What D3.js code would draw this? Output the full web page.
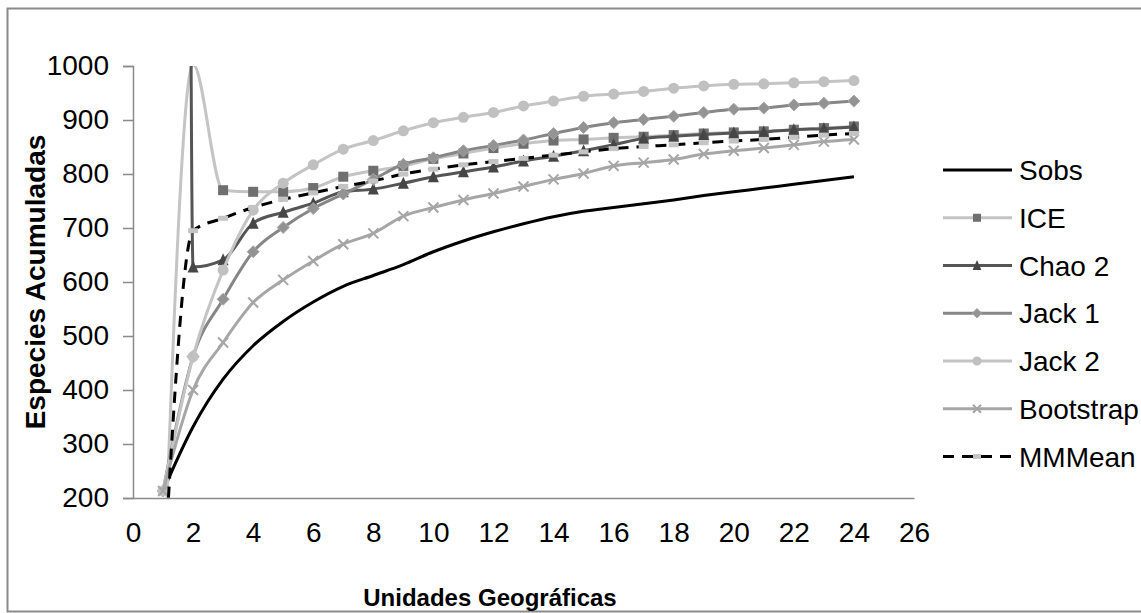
<!DOCTYPE html>
<html>
<head>
<meta charset="utf-8">
<script src="https://cdn.jsdelivr.net/npm/d3@7"></script>
<style>
  body { margin: 0; background: #fff; }
  svg { display: block; font-family: Arial, "Liberation Sans", sans-serif; }
</style>
</head>
<body>
<div id="chart"></div>
<script>
// Unidades geográficas (eje X)
const unidades = [1, 2, 3, 4, 5, 6, 7, 8, 9, 10, 11, 12, 13, 14, 15, 16, 17, 18, 19, 20, 21, 22, 23, 24];

// estimadores de riqueza (los primeros valores de ICE y Chao 2 salen del área)
const sobs = [213, 332, 420, 482, 527, 563, 592, 612, 632, 656, 676, 693, 708, 721, 731, 738, 745, 752, 760, 767, 774, 781, 788, 795];
const ice = [0, 1003, 770, 767, 767, 774, 795, 806, 815, 828, 838, 848, 856, 862, 864, 867, 869, 872, 875, 877, 879, 882, 885, 888];
const chao2 = [60000, 628, 641, 709, 729, 746, 767, 772, 783, 795, 804, 813, 824, 833, 843, 854, 866, 870, 873, 876, 878, 882, 884, 887];
const jack1 = [213, 462, 568, 656, 701, 736, 763, 790, 818, 830, 843, 853, 863, 875, 886, 895, 901, 907, 914, 920, 922, 928, 931, 935];
const jack2 = [213, 462, 622, 733, 783, 817, 846, 862, 880, 895, 905, 914, 926, 935, 944, 948, 953, 959, 963, 966, 967, 969, 971, 973];
const bootstrap = [213, 400, 488, 562, 604, 639, 670, 690, 722, 738, 752, 764, 777, 790, 801, 815, 821, 827, 837, 843, 848, 854, 860, 864];
const mmmean = [25, 695, 718, 738, 753, 765, 777, 787, 800, 809, 817, 823, 829, 835, 841, 847, 851, 854, 858, 861, 864, 868, 872, 875];

const nombres = ["Sobs", "ICE", "Chao 2", "Jack 1", "Jack 2", "Bootstrap", "MMMean"];
const xTicks = [0, 2, 4, 6, 8, 10, 12, 14, 16, 18, 20, 22, 24, 26];
const yTicks = [200, 300, 400, 500, 600, 700, 800, 900, 1000];

const width = 1141;
const height = 613;
const margin = ({top: 66, right: 219, bottom: 115, left: 133});

// estilo de cada serie
const estilos = [
  {line: "#000", marker: null, dash: null},
  {line: "#c4c4c4", marker: "square", fill: "#6f6f6f"},
  {line: "#555", marker: "triangle", fill: "#464646"},
  {line: "#868686", marker: "diamond", fill: "#939393"},
  {line: "#c4c4c4", marker: "circle", fill: "#c0c0c0"},
  {line: "#a6a6a6", marker: "cross", fill: "#a6a6a6"},
  {line: "#000", marker: "dash", fill: "#c4c4c4", dash: "11,8"},
];

const series = [sobs, ice, chao2, jack1, jack2, bootstrap, mmmean].map((vals, i) => ({
  name: nombres[i],
  style: estilos[i],
  values: vals.map((v, j) => ({x: unidades[j], y: v}))
}));

const x = d3.scaleLinear()
    .domain([0, 26])
    .range([margin.left, width - margin.right - 8]);

const y = d3.scaleLinear()
    .domain([200, 1000])
    .range([height - margin.bottom, margin.top]);

const axisColor = "#8a8a8a";

const svg = d3.select("#chart").append("svg")
    .attr("width", width)
    .attr("height", height);

// marco del gráfico
svg.append("rect")
    .attr("x", 7.5).attr("y", 8.5)
    .attr("width", width).attr("height", height - 10)
    .attr("fill", "#fff")
    .attr("stroke", axisColor)
    .attr("stroke-width", 2);

svg.append("clipPath").attr("id", "plot")
  .append("rect")
    .attr("x", x(0)).attr("y", y(1000))
    .attr("width", x(26) - x(0)).attr("height", y(200) - y(1000));

// ejes
const yAxis = g => g
    .attr("transform", `translate(${x(0)},0)`)
    .call(d3.axisLeft(y).tickValues(yTicks).tickFormat(d3.format("d")).tickSize(10).tickPadding(14))
    .call(g => g.selectAll("line, path").attr("stroke", axisColor).attr("stroke-width", 1.5))
    .call(g => g.selectAll("text").attr("font-size", 28).attr("fill", "#000"));

const xAxis = g => g
    .attr("transform", `translate(0,${y(200)})`)
    .call(d3.axisBottom(x).tickValues(xTicks).tickSize(0).tickPadding(24).tickSizeOuter(0))
    .call(g => g.select(".domain").attr("stroke", axisColor).attr("stroke-width", 1.5))
    .call(g => g.selectAll("text").attr("font-size", 28).attr("fill", "#000"));

svg.append("g").call(xAxis).attr("font-family", null);
svg.append("g").call(yAxis).attr("font-family", null);

svg.append("text")
    .attr("x", 490).attr("y", 606)
    .attr("text-anchor", "middle")
    .attr("font-size", 24).attr("font-weight", "bold")
    .text("Unidades Geográficas");

svg.append("text")
    .attr("transform", "translate(45,282) rotate(-90)")
    .attr("text-anchor", "middle")
    .attr("font-size", 28).attr("font-weight", "bold")
    .text("Especies Acumuladas");

// marcadores
function drawMarker(sel, type, fill, s) {
  if (type === "square") {
    sel.append("rect").attr("x", -s / 2).attr("y", -s / 2).attr("width", s).attr("height", s).attr("fill", fill);
  } else if (type === "triangle") {
    const h = s * 0.55;
    sel.append("path").attr("d", `M0,${-h - 1}L${h},${h}L${-h},${h}Z`).attr("fill", fill);
  } else if (type === "diamond") {
    const h = s * 0.6;
    sel.append("path").attr("d", `M0,${-h}L${h},0L0,${h}L${-h},0Z`).attr("fill", fill).attr("stroke", "#a8a8a8").attr("stroke-width", 1);
  } else if (type === "circle") {
    sel.append("circle").attr("r", s / 2 + 0.5).attr("fill", fill);
  } else if (type === "cross") {
    const h = s / 2;
    sel.append("path").attr("d", `M${-h},${-h}L${h},${h}M${-h},${h}L${h},${-h}`).attr("stroke", fill).attr("stroke-width", 2);
  } else if (type === "dash") {
    sel.append("rect").attr("x", -s / 2).attr("y", -2.5).attr("width", s).attr("height", 5).attr("fill", fill);
  }
}

const line = d3.line()
    .x(d => x(d.x))
    .y(d => y(d.y))
    .curve(d3.curveMonotoneX);

const plot = svg.append("g").attr("clip-path", "url(#plot)");

series.forEach(s => {
  const g = plot.append("g");
  g.append("path")
      .attr("d", line(s.values))
      .attr("fill", "none")
      .attr("stroke", s.style.line)
      .attr("stroke-width", 3)
      .attr("stroke-dasharray", s.style.dash)
      .attr("stroke-linejoin", "round");
  if (s.style.marker) {
    g.selectAll("g.m")
      .data(s.values.filter(d => d.y >= 200 && d.y <= 1000))
      .join("g")
        .attr("class", "m")
        .attr("transform", d => `translate(${x(d.x)},${y(d.y)})`)
        .each(function() { drawMarker(d3.select(this), s.style.marker, s.style.fill, 10); });
  }
});

// leyenda
const legend = svg.append("g");
const rowY = d3.scaleLinear().domain([0, 6]).range([170, 456.5]);

series.forEach((s, i) => {
  const g = legend.append("g").attr("transform", `translate(0,${rowY(i)})`);
  g.append("line")
      .attr("x1", 943).attr("x2", 1012)
      .attr("stroke", s.style.line)
      .attr("stroke-width", 3)
      .attr("stroke-dasharray", s.style.dash);
  if (s.style.marker) {
    const m = g.append("g").attr("transform", "translate(977,0)");
    drawMarker(m, s.style.marker, s.style.fill, 8);
  }
  g.append("text")
      .attr("x", 1019).attr("y", 10)
      .attr("font-size", 28)
      .text(s.name);
});
</script>
</body>
</html>
